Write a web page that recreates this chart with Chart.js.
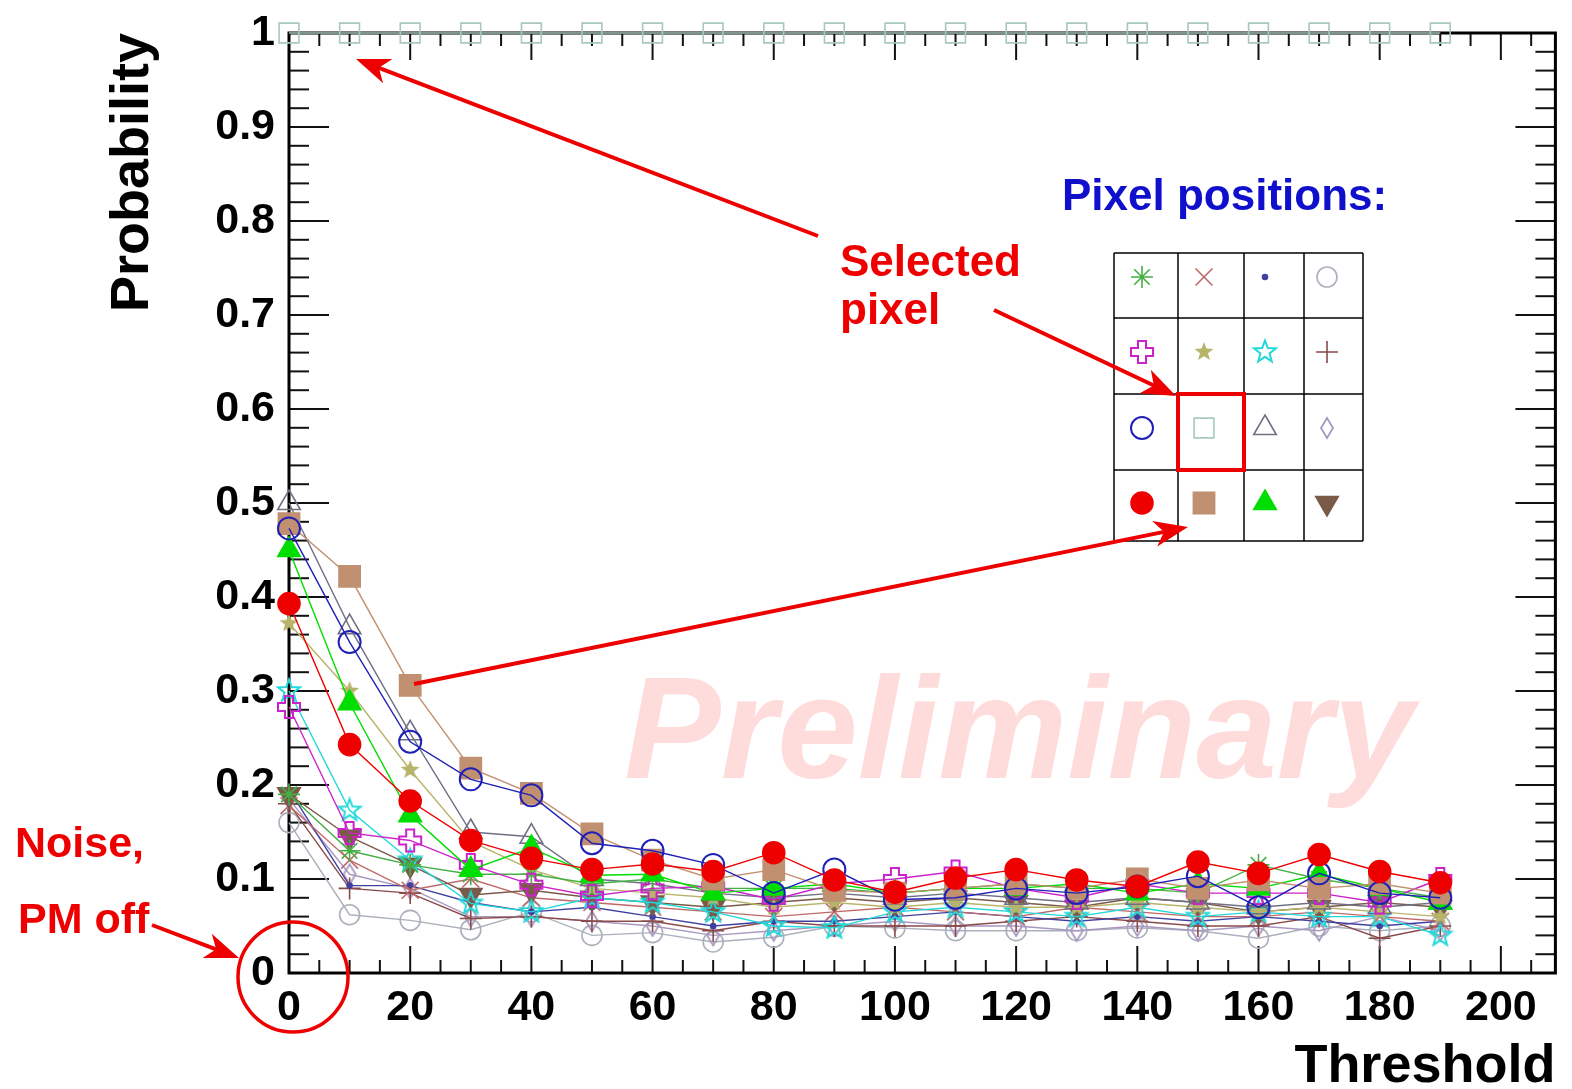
<!DOCTYPE html>
<html lang="en">
<head>
<meta charset="UTF-8" />
<title>Probability vs Threshold</title>
<script src="https://cdn.jsdelivr.net/npm/chart.js"></script>
<style>
  html, body { margin: 0; padding: 0; background: #fff; }
  canvas { display: block; }
</style>
</head>
<body>
<canvas id="probChart" width="1572" height="1089"></canvas>
<script>
// thresholds on the x axis
const thresholds = [0, 10, 20, 30, 40, 50, 60, 70, 80, 90, 100, 110, 120, 130, 140, 150, 160, 170, 180, 190];
const xTickLabels = ['0', '20', '40', '60', '80', '100', '120', '140', '160', '180', '200'];
const yTickLabels = ['0', '0.1', '0.2', '0.3', '0.4', '0.5', '0.6', '0.7', '0.8', '0.9', '1'];

// probability per pixel position
const greenAsterisk   = [0.19, 0.13, 0.115, 0.105, 0.105, 0.095, 0.10, 0.09, 0.09, 0.09, 0.085, 0.09, 0.095, 0.09, 0.09, 0.085, 0.115, 0.10, 0.09, 0.08];
const brownCrossX     = [0.178, 0.12, 0.088, 0.10, 0.08, 0.075, 0.07, 0.065, 0.06, 0.065, 0.07, 0.065, 0.06, 0.07, 0.065, 0.06, 0.06, 0.065, 0.06, 0.055];
const blueDot         = [0.195, 0.093, 0.093, 0.075, 0.065, 0.07, 0.06, 0.05, 0.055, 0.055, 0.06, 0.065, 0.06, 0.055, 0.06, 0.055, 0.06, 0.055, 0.05, 0.055];
const greyCircle      = [0.16, 0.062, 0.056, 0.046, 0.065, 0.04, 0.043, 0.033, 0.038, 0.05, 0.048, 0.045, 0.045, 0.045, 0.048, 0.045, 0.037, 0.05, 0.045, 0.05];
const magentaCross    = [0.283, 0.149, 0.141, 0.115, 0.094, 0.082, 0.09, 0.092, 0.078, 0.095, 0.10, 0.108, 0.09, 0.08, 0.095, 0.085, 0.085, 0.085, 0.075, 0.10];
const khakiStar       = [0.372, 0.30, 0.216, 0.14, 0.11, 0.09, 0.085, 0.08, 0.07, 0.075, 0.07, 0.075, 0.07, 0.07, 0.075, 0.07, 0.065, 0.07, 0.065, 0.06];
const cyanStar        = [0.30, 0.173, 0.12, 0.074, 0.065, 0.08, 0.075, 0.065, 0.05, 0.048, 0.065, 0.07, 0.065, 0.06, 0.07, 0.06, 0.065, 0.06, 0.06, 0.04];
const brownPlus       = [0.18, 0.09, 0.085, 0.058, 0.06, 0.055, 0.055, 0.045, 0.055, 0.05, 0.05, 0.05, 0.055, 0.06, 0.055, 0.05, 0.05, 0.06, 0.037, 0.05];
const blueCircle      = [0.473, 0.352, 0.246, 0.206, 0.189, 0.138, 0.13, 0.115, 0.085, 0.11, 0.078, 0.08, 0.09, 0.085, 0.092, 0.103, 0.07, 0.106, 0.085, 0.08];
const selectedSquare  = [1, 1, 1, 1, 1, 1, 1, 1, 1, 1, 1, 1, 1, 1, 1, 1, 1, 1, 1, 1];
const greyTriangle    = [0.50, 0.368, 0.255, 0.15, 0.145, 0.10, 0.095, 0.085, 0.08, 0.085, 0.08, 0.085, 0.08, 0.075, 0.08, 0.075, 0.07, 0.075, 0.07, 0.075];
const purpleDiamond   = [0.185, 0.105, 0.09, 0.06, 0.06, 0.055, 0.05, 0.04, 0.045, 0.05, 0.055, 0.05, 0.05, 0.045, 0.05, 0.045, 0.05, 0.045, 0.06, 0.045];
const redCircle       = [0.393, 0.243, 0.183, 0.141, 0.122, 0.11, 0.116, 0.108, 0.128, 0.099, 0.086, 0.101, 0.11, 0.099, 0.092, 0.118, 0.106, 0.126, 0.108, 0.096];
const tanSquare       = [0.478, 0.422, 0.306, 0.218, 0.191, 0.148, 0.12, 0.10, 0.11, 0.088, 0.085, 0.09, 0.095, 0.09, 0.10, 0.09, 0.099, 0.09, 0.095, 0.085];
const greenTriangle   = [0.45, 0.287, 0.168, 0.11, 0.133, 0.104, 0.105, 0.085, 0.09, 0.095, 0.085, 0.09, 0.09, 0.095, 0.085, 0.095, 0.09, 0.105, 0.09, 0.075];
const brownDownTri    = [0.19, 0.145, 0.115, 0.083, 0.088, 0.08, 0.075, 0.07, 0.075, 0.08, 0.075, 0.08, 0.075, 0.07, 0.08, 0.075, 0.065, 0.07, 0.075, 0.07];

const FONT = '"Liberation Sans", Arial, Helvetica, sans-serif';

// small canvases for the ROOT-like markers Chart.js has no style for
function markerCanvas(size, paint) {
  const c = document.createElement('canvas');
  c.width = size; c.height = size;
  const g = c.getContext('2d');
  g.translate(size / 2, size / 2);
  paint(g);
  return c;
}
function starPath(g, R, r) {
  g.beginPath();
  for (let i = 0; i < 10; i++) {
    const a = -Math.PI / 2 + i * Math.PI / 5;
    const rr = i % 2 ? r : R;
    g.lineTo(rr * Math.cos(a), rr * Math.sin(a));
  }
  g.closePath();
}
const openCross = markerCanvas(28, g => {
  const a = 4, L = 11;
  g.beginPath();
  g.moveTo(-a, -L); g.lineTo(a, -L); g.lineTo(a, -a); g.lineTo(L, -a); g.lineTo(L, a); g.lineTo(a, a);
  g.lineTo(a, L); g.lineTo(-a, L); g.lineTo(-a, a); g.lineTo(-L, a); g.lineTo(-L, -a); g.lineTo(-a, -a);
  g.closePath();
  g.strokeStyle = '#cc22cc'; g.lineWidth = 2; g.stroke();
});
const filledStar = markerCanvas(24, g => { starPath(g, 10, 4.2); g.fillStyle = '#b8b46a'; g.fill(); });
const openStar = markerCanvas(28, g => { starPath(g, 11.5, 4.8); g.strokeStyle = '#22d8d8'; g.lineWidth = 2; g.stroke(); });
const narrowDiamond = markerCanvas(26, g => {
  g.beginPath(); g.moveTo(0, -10); g.lineTo(6, 0); g.lineTo(0, 10); g.lineTo(-6, 0); g.closePath();
  g.strokeStyle = '#a898c0'; g.lineWidth = 1.8; g.stroke();
});

// first entry is drawn on top
const series = [
  { id: 'selectedSquare', data: selectedSquare, color: '#a8c8bc', style: 'rect', radius: 14 },
  { id: 'redCircle', data: redCircle, color: '#ee0000', style: 'circle', radius: 11, filled: true },
  { id: 'blueCircle', data: blueCircle, color: '#2020b8', style: 'circle', radius: 11, bw: 2 },
  { id: 'tanSquare', data: tanSquare, color: '#c09070', style: 'rect', radius: 15, filled: true },
  { id: 'greenTriangle', data: greenTriangle, color: '#00dd00', style: 'triangle', radius: 13, filled: true },
  { id: 'magentaCross', data: magentaCross, color: '#cc22cc', style: openCross, radius: 10 },
  { id: 'greenAsterisk', data: greenAsterisk, color: '#44b044', style: 'star', radius: 11 },
  { id: 'greyTriangle', data: greyTriangle, color: '#707084', style: 'triangle', radius: 13 },
  { id: 'khakiStar', data: khakiStar, color: '#b8b46a', style: filledStar, radius: 10 },
  { id: 'cyanStar', data: cyanStar, color: '#22d8d8', style: openStar, radius: 10 },
  { id: 'brownDownTri', data: brownDownTri, color: '#7a5a48', style: 'triangle', radius: 13, filled: true, rotation: 180 },
  { id: 'brownCrossX', data: brownCrossX, color: '#c06868', style: 'crossRot', radius: 12 },
  { id: 'blueDot', data: blueDot, color: '#4040a0', style: 'circle', radius: 2.5, filled: true },
  { id: 'brownPlus', data: brownPlus, color: '#8a4a4a', style: 'cross', radius: 11 },
  { id: 'purpleDiamond', data: purpleDiamond, color: '#a898c0', style: narrowDiamond, radius: 10 },
  { id: 'greyCircle', data: greyCircle, color: '#aab0bc', style: 'circle', radius: 10 }
];

const legendGrid = [
  ['greenAsterisk', 'brownCrossX', 'blueDot', 'greyCircle'],
  ['magentaCross', 'khakiStar', 'cyanStar', 'brownPlus'],
  ['blueCircle', 'selectedSquare', 'greyTriangle', 'purpleDiamond'],
  ['redCircle', 'tanSquare', 'greenTriangle', 'brownDownTri']
];
const tableCols = [1114, 1178, 1244, 1304, 1363];
const tableRows = [253, 318, 394, 470, 541];
const glyphX = [1142, 1204, 1265, 1327];
const glyphY = [277, 352, 428, 503];

function seg(ctx, x1, y1, x2, y2) {
  ctx.beginPath(); ctx.moveTo(x1, y1); ctx.lineTo(x2, y2); ctx.stroke();
}

function arrow(ctx, x1, y1, x2, y2) {
  const ang = Math.atan2(y2 - y1, x2 - x1);
  const len = 34, half = 13;
  const c = Math.cos(ang), s = Math.sin(ang);
  const bx = x2 - len * c, by = y2 - len * s;
  const nx = x2 - len * 0.72 * c, ny = y2 - len * 0.72 * s;
  seg(ctx, x1, y1, nx, ny);
  ctx.beginPath();
  ctx.moveTo(x2, y2);
  ctx.lineTo(bx + half * s, by - half * c);
  ctx.lineTo(nx, ny);
  ctx.lineTo(bx - half * s, by + half * c);
  ctx.closePath();
  ctx.fill();
}

// keep the plot frame exactly where the layout padding puts it
function fixScale(size) {
  return s => {
    if (s.isHorizontal()) s.height = size; else s.width = size;
    s.paddingTop = 0; s.paddingBottom = 0; s.paddingLeft = 0; s.paddingRight = 0;
  };
}

const framePlugin = {
  id: 'frameTicks',
  beforeDatasetsDraw(chart) {
    const { ctx, chartArea: a, scales: { x, y } } = chart;
    ctx.save();
    ctx.font = 'italic bold 145px ' + FONT;
    ctx.fillStyle = '#ffdcdc';
    ctx.textBaseline = 'alphabetic';
    ctx.fillText('Preliminary', 624, 778);

    ctx.strokeStyle = '#111';
    ctx.lineWidth = 2;
    for (let i = 0; i <= 50; i++) {
      const py = y.getPixelForValue(i * 0.02);
      const len = i % 5 === 0 ? 40 : 20;
      seg(ctx, a.left, py, a.left + len, py);
      seg(ctx, a.right, py, a.right - len, py);
    }
    for (let v = 0; v <= 205; v += 5) {
      const px = x.getPixelForValue(v);
      const len = v % 20 === 0 ? 27 : 13;
      seg(ctx, px, a.bottom, px, a.bottom - len);
      seg(ctx, px, a.top, px, a.top + len);
    }
    ctx.strokeStyle = '#000';
    ctx.lineWidth = 3;
    ctx.strokeRect(a.left, a.top, a.right - a.left, a.bottom - a.top);
    ctx.restore();
  },
  afterDatasetsDraw(chart) {
    const { ctx } = chart;
    ctx.save();
    ctx.font = 'bold 44px ' + FONT;
    ctx.textBaseline = 'alphabetic';
    ctx.fillStyle = '#1010cc';
    ctx.fillText('Pixel positions:', 1062, 210);
    ctx.fillStyle = '#ee0000';
    ctx.fillText('Selected', 840, 276);
    ctx.fillText('pixel', 840, 324);
    ctx.font = 'bold 43px ' + FONT;
    ctx.fillText('Noise,', 15, 857);
    ctx.fillText('PM off', 18, 933);

    // pixel position table
    ctx.fillStyle = '#fff';
    ctx.fillRect(tableCols[0], tableRows[0], tableCols[4] - tableCols[0], tableRows[4] - tableRows[0]);
    ctx.strokeStyle = '#000';
    ctx.lineWidth = 1.5;
    tableCols.forEach(cx => seg(ctx, cx, tableRows[0], cx, tableRows[4]));
    tableRows.forEach(ry => seg(ctx, tableCols[0], ry, tableCols[4], ry));

    const drawPoint = Chart.helpers && Chart.helpers.drawPoint;
    legendGrid.forEach((row, r) => row.forEach((id, c) => {
      const s = series.find(d => d.id === id);
      ctx.fillStyle = s.filled ? s.color : 'rgba(0,0,0,0)';
      ctx.strokeStyle = s.color;
      ctx.lineWidth = s.bw || 1.6;
      const opts = { pointStyle: s.style, radius: s.radius, rotation: s.rotation || 0, borderWidth: s.bw || 1.6 };
      if (drawPoint) drawPoint(ctx, opts, glyphX[c], glyphY[r]);
    }));

    ctx.strokeStyle = '#ee0000';
    ctx.fillStyle = '#ee0000';
    ctx.lineWidth = 4;
    ctx.strokeRect(tableCols[1], tableRows[2], tableCols[2] - tableCols[1], tableRows[3] - tableRows[2]);

    // arrows
    arrow(ctx, 818, 236, 356, 59);
    arrow(ctx, 994, 310, 1176, 396);
    arrow(ctx, 414, 684, 1188, 527);
    arrow(ctx, 152, 925, 239, 958);

    // circle round the origin
    ctx.lineWidth = 3.5;
    ctx.beginPath();
    ctx.arc(293, 977, 55, 0, Math.PI * 2);
    ctx.stroke();
    ctx.restore();
  }
};

const ctx = document.getElementById('probChart').getContext('2d');
new Chart(ctx, {
  type: 'line',
  data: {
    datasets: series.map(s => ({
      label: s.id,
      data: thresholds.map((t, i) => ({ x: t, y: s.data[i] })),
      borderColor: s.color,
      borderWidth: 1.4,
      pointStyle: s.style,
      pointRadius: s.radius,
      pointRotation: s.rotation || 0,
      pointBorderColor: s.color,
      pointBackgroundColor: s.filled ? s.color : 'rgba(0,0,0,0)',
      pointBorderWidth: s.bw || 1.6,
      tension: 0,
      fill: false,
      clip: false
    }))
  },
  options: {
    responsive: false,
    animation: false,
    events: [],
    layout: { padding: { left: 106, top: 33, right: 8, bottom: 0 } },
    plugins: { legend: { display: false }, tooltip: { enabled: false } },
    scales: {
      x: {
        type: 'linear',
        min: 0,
        max: 209,
        afterFit: fixScale(116),
        grid: { display: false, drawTicks: false },
        border: { display: false },
        ticks: {
          stepSize: 20,
          includeBounds: false,
          maxRotation: 0,
          autoSkip: false,
          padding: 9,
          color: '#000',
          font: { family: FONT, size: 43, weight: 'bold' },
          callback: v => xTickLabels[Math.round(v / 20)]
        },
        title: {
          display: true,
          text: 'Threshold',
          align: 'end',
          color: '#000',
          padding: { top: 0, bottom: -5 },
          font: { family: FONT, size: 54, weight: 'bold', lineHeight: 1 }
        }
      },
      y: {
        min: 0,
        max: 1,
        afterFit: fixScale(183),
        grid: { display: false, drawTicks: false },
        border: { display: false },
        ticks: {
          stepSize: 0.1,
          autoSkip: false,
          padding: 14,
          color: '#000',
          font: { family: FONT, size: 43, weight: 'bold' },
          callback: v => yTickLabels[Math.round(v * 10)]
        },
        title: {
          display: true,
          text: 'Probability',
          align: 'end',
          color: '#000',
          padding: 0,
          font: { family: FONT, size: 54, weight: 'bold', lineHeight: 1 }
        }
      }
    }
  },
  plugins: [framePlugin]
});
</script>
</body>
</html>
